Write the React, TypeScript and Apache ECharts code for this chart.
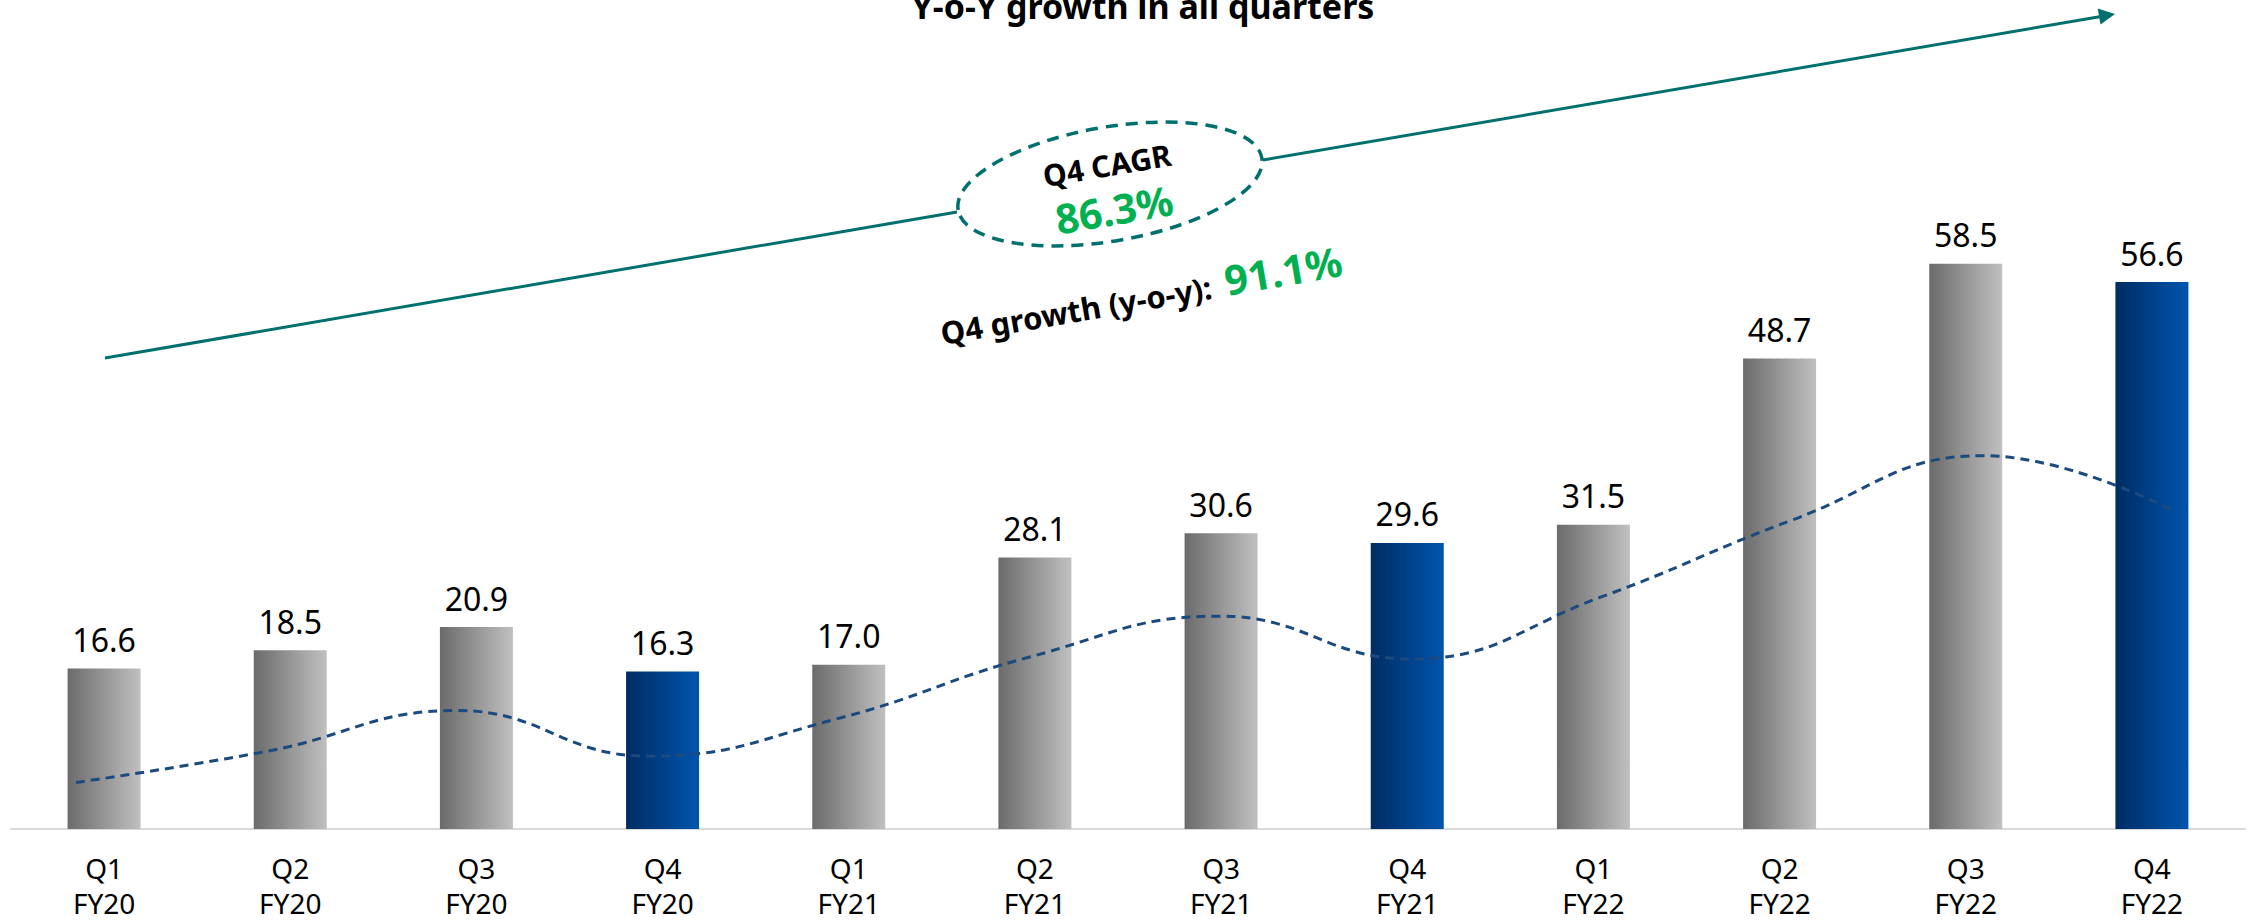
import { useEffect, useRef } from 'react';
import * as echarts from 'echarts';

const quarters = ['Q1', 'Q2', 'Q3', 'Q4', 'Q1', 'Q2', 'Q3', 'Q4', 'Q1', 'Q2', 'Q3', 'Q4'];
const fiscalYears = ['FY20', 'FY20', 'FY20', 'FY20', 'FY21', 'FY21', 'FY21', 'FY21', 'FY22', 'FY22', 'FY22', 'FY22'];
const revenue = [16.6, 18.5, 20.9, 16.3, 17.0, 28.1, 30.6, 29.6, 31.5, 48.7, 58.5, 56.6];
const trend = [5.3, 8.5, 12.7, 8.0, 11.9, 18.2, 22.4, 18.0, 24.4, 32.3, 38.9, 33.2];
const titleText = 'Y-o-Y growth in all quarters';
const cagrLabel = 'Q4 CAGR';
const cagrValue = '86.3%';
const growthLabel = 'Q4 growth (y-o-y):';
const growthValue = '91.1%';

const FONT = '"Noto Sans", "Liberation Sans", sans-serif';
const TEAL = '#00706E';
const GREEN = '#00B050';
const ANGLE = 0.1695;

const grayGrad = () =>
  new echarts.graphic.LinearGradient(0, 0, 1, 0, [
    { offset: 0, color: '#6B6B6B' },
    { offset: 1, color: '#C0C0C0' },
  ]);
const blueGrad = () =>
  new echarts.graphic.LinearGradient(0, 0, 1, 0, [
    { offset: 0, color: '#002C63' },
    { offset: 1, color: '#0055AE' },
  ]);

export default function App() {
  const ref = useRef<HTMLDivElement>(null);
  useEffect(() => {
    if (!ref.current) return;
    const chart = echarts.init(ref.current, undefined, { renderer: 'svg' });
    const categories = quarters.map((q, i) => q + '\n' + fiscalYears[i]);
    chart.setOption({
      animation: false,
      backgroundColor: '#FFFFFF',
      grid: [
        { left: 11, right: 4, top: 56, bottom: 86 },
        { left: 76, right: 75, top: 56, bottom: 86 },
      ],
      xAxis: [
        {
          type: 'category',
          gridIndex: 0,
          data: categories,
          axisLine: { show: true, lineStyle: { color: '#D9D9D9', width: 2 } },
          axisTick: { show: false },
          axisLabel: {
            color: '#000000',
            fontFamily: FONT,
            fontSize: 28,
            lineHeight: 35,
            margin: 21,
            interval: 0,
          },
        },
        {
          type: 'category',
          gridIndex: 1,
          data: categories,
          boundaryGap: false,
          show: false,
        },
      ],
      yAxis: [
        { type: 'value', gridIndex: 0, min: 0, max: 80, show: false, splitLine: { show: false } },
        { type: 'value', gridIndex: 1, min: 0, max: 80, show: false, splitLine: { show: false } },
      ],
      series: [
        {
          type: 'bar',
          xAxisIndex: 0,
          yAxisIndex: 0,
          barWidth: 73,
          data: revenue.map((v, i) => ({
            value: v,
            itemStyle: { color: quarters[i] === 'Q4' ? blueGrad() : grayGrad() },
          })),
          label: {
            show: true,
            position: 'top',
            distance: 13,
            color: '#000000',
            fontFamily: FONT,
            fontSize: 32,
            formatter: (p: any) => Number(p.value).toFixed(1),
          },
          z: 2,
        },
        {
          type: 'line',
          xAxisIndex: 1,
          yAxisIndex: 1,
          data: trend,
          smooth: 0.45,
          symbol: 'none',
          lineStyle: { color: '#1B4A7E', width: 3, type: [9, 6] },
          z: 3,
        },
      ],
      graphic: [
        {
          type: 'text',
          x: 1143,
          y: 6,
          style: {
            text: titleText,
            fill: '#000000',
            font: `bold 34px ${FONT}`,
            align: 'center',
            verticalAlign: 'middle',
          },
        },
        {
          type: 'line',
          shape: { x1: 105, y1: 358, x2: 957, y2: 212 },
          style: { stroke: TEAL, lineWidth: 3 },
        },
        {
          type: 'line',
          shape: { x1: 1263, y1: 160, x2: 2101, y2: 16.5 },
          style: { stroke: TEAL, lineWidth: 3 },
        },
        {
          type: 'polygon',
          shape: { points: [[2115, 14], [2100.5, 24.5], [2097.7, 8.6]] },
          style: { fill: TEAL },
        },
        {
          type: 'ellipse',
          x: 1110,
          y: 184,
          rotation: ANGLE,
          shape: { cx: 0, cy: 0, rx: 154, ry: 57 },
          style: { fill: 'none', stroke: TEAL, lineWidth: 3.5, lineDash: [12, 8] },
        },
        {
          type: 'text',
          x: 1107,
          y: 165,
          rotation: ANGLE,
          style: {
            text: cagrLabel,
            fill: '#000000',
            font: `bold 30px ${FONT}`,
            align: 'center',
            verticalAlign: 'middle',
          },
        },
        {
          type: 'text',
          x: 1114,
          y: 209,
          rotation: ANGLE,
          style: {
            text: cagrValue,
            fill: GREEN,
            font: `bold 41px ${FONT}`,
            align: 'center',
            verticalAlign: 'middle',
          },
        },
        {
          type: 'text',
          x: 1076,
          y: 310,
          rotation: ANGLE,
          style: {
            text: growthLabel,
            fill: '#000000',
            font: `bold 31px ${FONT}`,
            align: 'center',
            verticalAlign: 'middle',
          },
        },
        {
          type: 'text',
          x: 1283,
          y: 270,
          rotation: ANGLE,
          style: {
            text: growthValue,
            fill: GREEN,
            font: `bold 41px ${FONT}`,
            align: 'center',
            verticalAlign: 'middle',
          },
        },
      ],
    });
    return () => chart.dispose();
  }, []);
  return (
    <div
      ref={ref}
      style={{ position: 'fixed', left: 0, top: 0, width: 2249, height: 920, background: '#fff' }}
    />
  );
}
